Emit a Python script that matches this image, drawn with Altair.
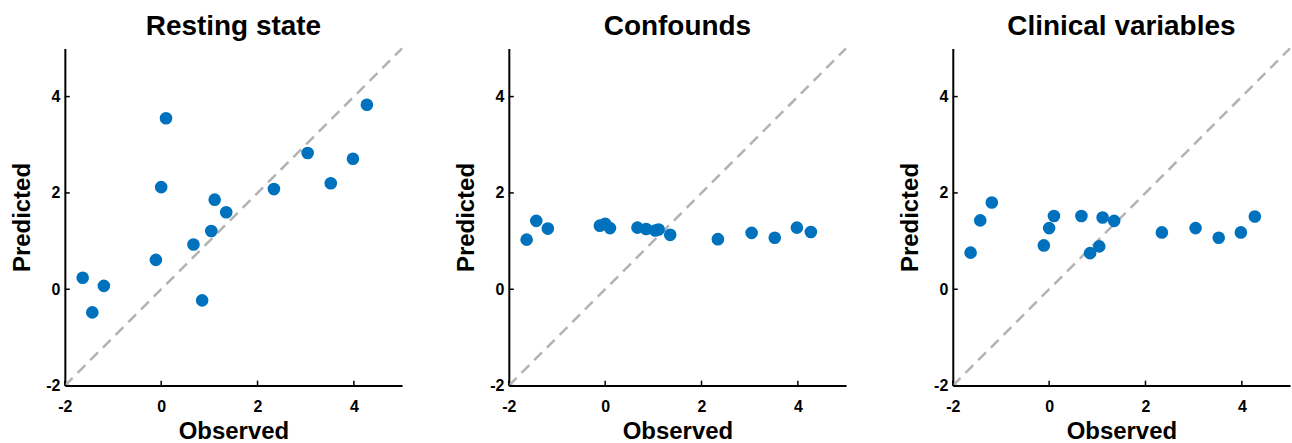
import altair as alt
import pandas as pd

# ---- data ----
observed = [-1.63, -1.43, -1.19, -0.11, 0.00, 0.10, 0.67, 0.85, 1.04, 1.11, 1.35, 2.34, 3.04, 3.52, 3.98, 4.27]
pred_resting = [0.24, -0.48, 0.07, 0.61, 2.12, 3.55, 0.93, -0.23, 1.21, 1.86, 1.60, 2.08, 2.83, 2.20, 2.71, 3.83]
pred_confounds = [1.03, 1.42, 1.26, 1.32, 1.36, 1.27, 1.28, 1.25, 1.22, 1.24, 1.13, 1.04, 1.17, 1.07, 1.28, 1.19]
pred_clinical = [0.76, 1.43, 1.80, 0.91, 1.27, 1.52, 1.52, 0.75, 0.89, 1.49, 1.42, 1.18, 1.27, 1.07, 1.18, 1.51]
panel_titles = ["Resting state", "Confounds", "Clinical variables"]
tick_values = [-2, 0, 2, 4]
axis_range = [-2, 5]
identity_line = [-2, 5]

FONT = "Liberation Sans"
W = 338
H = 338

xscale = alt.Scale(domain=axis_range, nice=False, zero=False)
yscale = alt.Scale(domain=axis_range, nice=False, zero=False)

common_axis = dict(
    grid=False, ticks=False, domainColor="black", domainWidth=2, labelFlush=False,
    labelFont=FONT, labelFontSize=16, labelFontWeight="bold", labelColor="black",
    titleFont=FONT, titleFontSize=24, titleFontWeight="bold", titleColor="black",
    labelExpr="'' + datum.value", values=tick_values,
)
xaxis = alt.Axis(title="Observed", labelPadding=13, titlePadding=5, **common_axis)
yaxis = alt.Axis(title="Predicted", labelPadding=5, titlePadding=11, **common_axis)


def panel(title, pred):
    df = pd.DataFrame({"Observed": observed, "Predicted": pred})
    diag = pd.DataFrame({"a": [identity_line[0]], "b": [identity_line[1]]})
    ticks = pd.DataFrame({"t": tick_values})

    line = alt.Chart(diag).mark_rule(color="#b3b3b3", strokeWidth=2.5, strokeDash=[11, 7]).encode(
        x=alt.X("a:Q", scale=xscale, axis=xaxis),
        y=alt.Y("a:Q", scale=yscale, axis=yaxis),
        x2="b:Q",
        y2="b:Q",
    )
    xt = alt.Chart(ticks).mark_rule(color="black", strokeWidth=1.5).encode(
        x=alt.X("t:Q", scale=xscale, axis=xaxis),
        y=alt.value(H), y2=alt.value(H - 5),
    )
    yt = alt.Chart(ticks).mark_rule(color="black", strokeWidth=1.5).encode(
        y=alt.Y("t:Q", scale=yscale, axis=yaxis),
        x=alt.value(0), x2=alt.value(5),
    )
    pts = alt.Chart(df).mark_circle(size=160, color="#0072BD", opacity=1).encode(
        x=alt.X("Observed:Q", scale=xscale, axis=xaxis),
        y=alt.Y("Predicted:Q", scale=yscale, axis=yaxis),
    )
    return alt.layer(line, xt, yt, pts).properties(
        width=W, height=H,
        title=alt.TitleParams(title, fontSize=28, font=FONT, fontWeight="bold",
                              color="black", offset=6, anchor="middle"),
    )


chart = alt.hconcat(
    *[panel(t, p) for t, p in zip(panel_titles, [pred_resting, pred_confounds, pred_clinical])],
    spacing=50,
).properties(
    padding={"left": 10, "top": 12, "right": 0, "bottom": 0}
).configure(background="white").configure_view(stroke=None)

chart.save("out.html", embed_options={"renderer": "svg", "actions": False})
